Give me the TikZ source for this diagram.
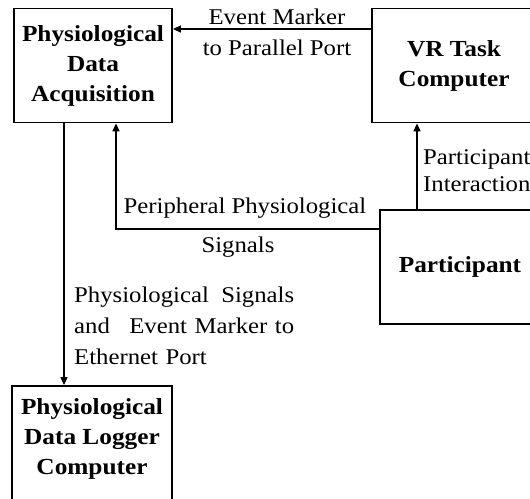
\documentclass[tikz,border=0pt]{standalone}
\usepackage{fontspec}
\setmainfont[FakeStretch=1.1]{Liberation Serif}
\usetikzlibrary{arrows.meta}
\begin{document}
\begin{tikzpicture}[x=1pt,y=1pt,
  blk/.style={draw,line width=1.8pt,rectangle,inner sep=0pt,align=center,
    font=\fontsize{23}{30}\selectfont\bfseries},
  lbl/.style={inner sep=0pt,font=\fontsize{22.5}{31}\selectfont},
  arr/.style={line width=1.6pt,-{Triangle[length=8pt,width=7pt]}},
  wire/.style={line width=1.6pt}]
\useasboundingbox (0,0) rectangle (530,498);
\clip (0,0) rectangle (530,498);

% blocks
\node[blk,minimum width=158,minimum height=114] (pda) at (93,432.5)
  {Physiological\\Data\\Acquisition};
\node[blk,minimum width=164,minimum height=114] (vr) at (454,432.5)
  {VR Task\\Computer};
\node[blk,minimum width=160,minimum height=114] (part) at (460,231)
  {Participant};
\node[draw,line width=1.8pt,rectangle,minimum width=160,minimum height=124] (logger) at (92,50) {};
\node[blk,draw=none] (loggertxt) at (92,59) {Physiological\\Data Logger\\Computer};

% connectors
\draw[arr] (vr.west |- 0,469) -- (pda.east |- 0,469);
\draw[arr] (pda.south -| 64,0) -- (logger.north -| 64,0);
\coordinate (bend) at (116,269);
\draw[arr] (part.west |- bend) -- (bend) -- (pda.south -| bend);
\draw[arr] (part.north -| 417,0) -- (vr.south -| 417,0);

% labels
\node[lbl,align=center] (evt) at (277,465.5) {Event Marker\\to Parallel Port};
\node[lbl] (pps1) at (245,290) {Peripheral Physiological};
\node[lbl] (pps2) at (238,251) {Signals};
\node[lbl,align=left,anchor=west] (pint) at (423,327.5) {Participant\\[-4pt]Interaction};
\node[lbl,align=left,anchor=north west,text width=220] (eth) at (74,211)
  {\makebox[220pt][s]{Physiological\hfill Signals}\\
   \makebox[220pt][s]{and\hfill Event\ Marker\ to}\\
   Ethernet Port};
\end{tikzpicture}
\end{document}
